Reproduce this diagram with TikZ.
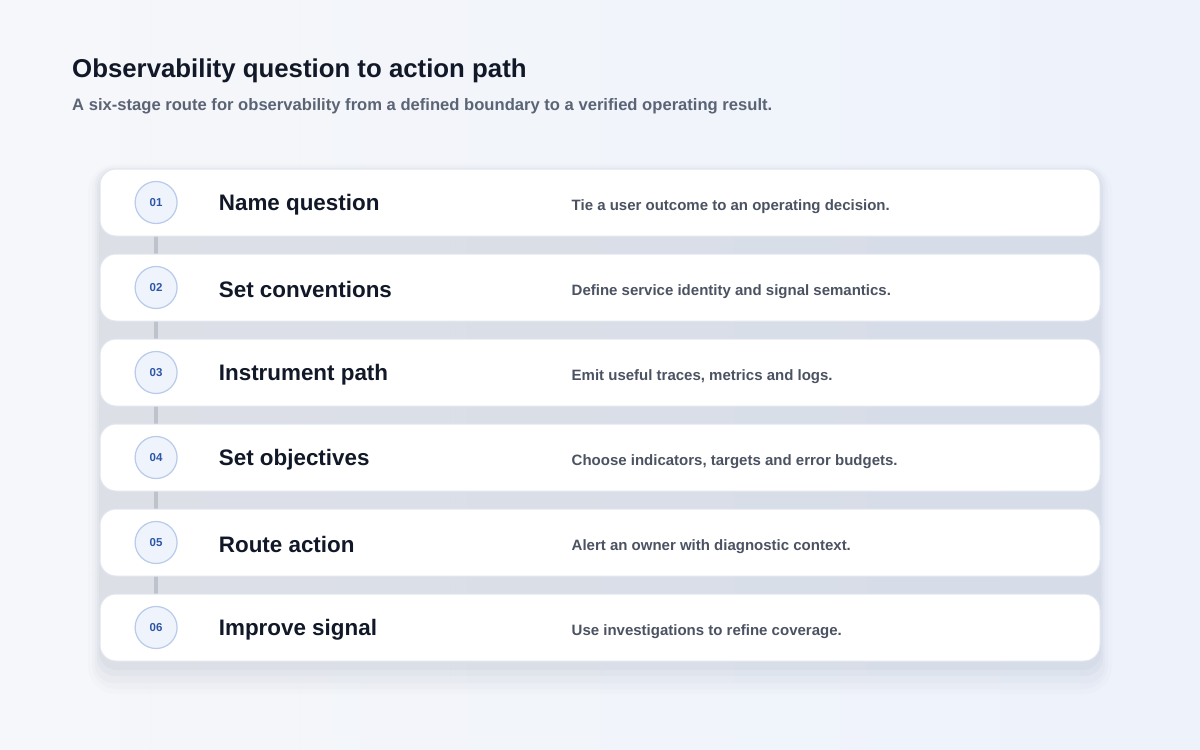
\documentclass[tikz,border=0pt]{standalone}
\usepackage{fontspec}
\setmainfont{Liberation Sans}
\usetikzlibrary{positioning,calc}
\definecolor{bgA}{HTML}{F6F7FA}
\definecolor{bgB}{HTML}{EDF2FB}
\definecolor{ink}{HTML}{111827}
\definecolor{subink}{HTML}{5B6475}
\definecolor{descink}{HTML}{4B5262}
\definecolor{numfill}{HTML}{EEF3FC}
\definecolor{numdraw}{HTML}{B9CBEA}
\definecolor{numink}{HTML}{2D56A6}
\definecolor{linkgray}{HTML}{BEC2CA}
\definecolor{cardline}{HTML}{E1E6EF}
\definecolor{shadowc}{HTML}{7D88A3}
\pgfdeclarelayer{back}
\pgfdeclarelayer{links}
\pgfsetlayers{back,links,main}
\tikzset{
  card/.style={rectangle, rounded corners=16pt, fill=white, draw=cardline, line width=1pt,
    minimum width=1000pt, minimum height=67pt, node distance=17pt},
  num/.style={circle, minimum size=42pt, inner sep=0pt, fill=numfill, draw=numdraw, line width=1.2pt,
    text=numink, font=\fontsize{11.5}{14}\selectfont\bfseries},
  stage/.style={inner sep=0pt, text=ink, font=\fontsize{22.4}{26}\selectfont\bfseries},
  note/.style={inner sep=0pt, text=descink, font=\fontsize{15}{18}\selectfont\bfseries},
  link/.style={line width=4pt, draw=linkgray},
  haze/.style={fill=shadowc, rounded corners=18pt}
}

\begin{document}
\begin{tikzpicture}[x=1pt, y=-1pt]
      \useasboundingbox (0,0) rectangle (1200,750);
      \begin{pgfonlayer}{back}
        \shade[left color=bgA, right color=bgB] (0,0) rectangle (1200,750);
        % faint grid
        \draw[white!80!numdraw, opacity=0.3, line width=0.8pt]
          (150,0) -- (150,750) (300,0) -- (300,750) (450,0) -- (450,750) (600,0) -- (600,750)
          (750,0) -- (750,750) (900,0) -- (900,750) (1050,0) -- (1050,750)
          (0,125) -- (1200,125) (0,275) -- (1200,275) (0,425) -- (1200,425) (0,575) -- (1200,575);
        % soft shadow under the stack
        \fill[haze, opacity=0.025, rounded corners=28pt] (88,164) rectangle (1112,694);
        \fill[haze, opacity=0.03, rounded corners=24pt] (92,166) rectangle (1108,689);
        \fill[haze, opacity=0.04] (95,168) rectangle (1105,683);
        \fill[haze, opacity=0.05] (97,170) rectangle (1103,676);
        \fill[haze, opacity=0.06] (99,172) rectangle (1101,670);
      \end{pgfonlayer}

      \node[anchor=base west, inner sep=0pt, text=ink, font=\fontsize{25.8}{30}\selectfont\bfseries]
        (Title) at (72,77) {Observability question to action path};
      \node[anchor=base west, inner sep=0pt, text=subink, font=\fontsize{16.6}{19}\selectfont\bfseries]
        (Sub) at (72,110) {A six-stage route for observability from a defined boundary to a verified operating result.};

      \node[card] (C1) at (600,202.5) {};
      \node[card] (C2) [below=of C1] {};
      \node[card] (C3) [below=of C2] {};
      \node[card] (C4) [below=of C3] {};
      \node[card] (C5) [below=of C4] {};
      \node[card] (C6) [below=of C5] {};

      \node[num] (N1) [right=35pt of C1.west] {01};
      \node[num] (N2) [right=35pt of C2.west] {02};
      \node[num] (N3) [right=35pt of C3.west] {03};
      \node[num] (N4) [right=35pt of C4.west] {04};
      \node[num] (N5) [right=35pt of C5.west] {05};
      \node[num] (N6) [right=35pt of C6.west] {06};

      \node[stage] (S1) [right=41pt of N1, yshift=-2pt] {Name question};
      \node[stage] (S2) [right=41pt of N2, yshift=-2pt] {Set conventions};
      \node[stage] (S3) [right=41pt of N3, yshift=-2pt] {Instrument path};
      \node[stage] (S4) [right=41pt of N4, yshift=-2pt] {Set objectives};
      \node[stage] (S5) [right=41pt of N5, yshift=-2pt] {Route action};
      \node[stage] (S6) [right=41pt of N6, yshift=-2pt] {Improve signal};

      \node[note] (D1) [right=472pt of C1.west, yshift=-4pt] {Tie a user outcome to an operating decision.};
      \node[note] (D2) [right=472pt of C2.west, yshift=-4pt] {Define service identity and signal semantics.};
      \node[note] (D3) [right=472pt of C3.west, yshift=-4pt] {Emit useful traces, metrics and logs.};
      \node[note] (D4) [right=472pt of C4.west, yshift=-4pt] {Choose indicators, targets and error budgets.};
      \node[note] (D5) [right=472pt of C5.west, yshift=-4pt] {Alert an owner with diagnostic context.};
      \node[note] (D6) [right=472pt of C6.west, yshift=-4pt] {Use investigations to refine coverage.};

      % the spine, hidden by the cards
      \begin{pgfonlayer}{links}
        \path (N1) edge [link] (N2)
              (N2) edge [link] (N3)
              (N3) edge [link] (N4)
              (N4) edge [link] (N5)
              (N5) edge [link] (N6);
      \end{pgfonlayer}
    \end{tikzpicture}
\end{document}
